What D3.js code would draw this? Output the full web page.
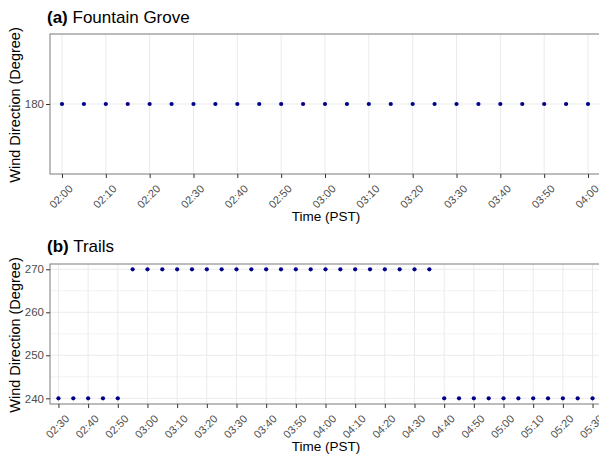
<!DOCTYPE html>
<html>
<head>
<meta charset="utf-8">
<script src="https://cdn.jsdelivr.net/npm/d3@7"></script>
<style>
  html, body { margin: 0; padding: 0; background: #fff; }
  svg { display: block; font-family: "Liberation Sans", Arial, sans-serif; }
</style>
</head>
<body>
<svg id="chart" width="599" height="458"></svg>
<script>
// (a) Fountain Grove: 5-minute wind direction observations
const timesA = ["02:00","02:05","02:10","02:15","02:20","02:25","02:30","02:35","02:40","02:45",
                "02:50","02:55","03:00","03:05","03:10","03:15","03:20","03:25","03:30","03:35",
                "03:40","03:45","03:50","03:55","04:00"];
const dirA = [180,180,180,180,180,180,180,180,180,180,
              180,180,180,180,180,180,180,180,180,180,
              180,180,180,180,180];
const ticksA = ["02:00","02:10","02:20","02:30","02:40","02:50","03:00",
                "03:10","03:20","03:30","03:40","03:50","04:00"];
const yTicksA = [180];

// (b) Trails: 5-minute wind direction observations
const timesB = ["02:30","02:35","02:40","02:45","02:50","02:55","03:00","03:05","03:10","03:15",
                "03:20","03:25","03:30","03:35","03:40","03:45","03:50","03:55","04:00","04:05",
                "04:10","04:15","04:20","04:25","04:30","04:35","04:40","04:45","04:50","04:55",
                "05:00","05:05","05:10","05:15","05:20","05:25","05:30"];
const dirB = [240,240,240,240,240,270,270,270,270,270,
              270,270,270,270,270,270,270,270,270,270,
              270,270,270,270,270,270,240,240,240,240,
              240,240,240,240,240,240,240];
const ticksB = ["02:30","02:40","02:50","03:00","03:10","03:20","03:30","03:40","03:50","04:00",
                "04:10","04:20","04:30","04:40","04:50","05:00","05:10","05:20","05:30"];
const yTicksB = [240,250,260,270];
const yMinorB = [245,255,265];

const parse = d3.timeParse("%H:%M");
const parseSec = d3.timeParse("%H:%M:%S");
const svg = d3.select("#chart");

function drawPanel(cfg) {
  const { tag, name, times, dirs, xTicks, yTicks, yMinor, xDomain, yDomain,
          top, bottom, left, right, titleY, xTitleY } = cfg;
  const x = d3.scaleTime().domain(xDomain.map(parseSec)).range([left, right]);
  const y = d3.scaleLinear().domain(yDomain).range([bottom, top]);
  const g = svg.append("g");

  // gridlines
  const grid = g.append("g").attr("stroke", "#ebebeb").attr("stroke-width", 1);
  yMinor.forEach(v => grid.append("line")
    .attr("x1", left).attr("x2", right).attr("y1", y(v)).attr("y2", y(v))
    .attr("stroke", "#f2f2f2"));
  yTicks.forEach(v => grid.append("line")
    .attr("x1", left).attr("x2", right).attr("y1", y(v)).attr("y2", y(v)));
  xTicks.forEach(t => grid.append("line")
    .attr("x1", x(parse(t))).attr("x2", x(parse(t))).attr("y1", top).attr("y2", bottom));

  // observations
  g.append("g").selectAll("circle")
    .data(times.map((t, i) => ({ t: parse(t), v: dirs[i] })))
    .join("circle")
    .attr("cx", d => x(d.t))
    .attr("cy", d => y(d.v))
    .attr("r", 2.1)
    .attr("fill", "#00008b");

  // panel border
  g.append("rect")
    .attr("x", left).attr("y", top)
    .attr("width", right - left).attr("height", bottom - top)
    .attr("fill", "none").attr("stroke", "#7a7a7a").attr("stroke-width", 1);

  // x axis
  const xAxis = d3.axisBottom(x)
    .tickValues(xTicks.map(parse))
    .tickFormat(d3.timeFormat("%H:%M"))
    .tickSize(4).tickPadding(2);
  const gx = g.append("g").attr("transform", `translate(0,${bottom})`).call(xAxis);
  gx.select(".domain").remove();
  gx.selectAll(".tick line").attr("stroke", "#333").attr("stroke-width", 1);
  gx.selectAll(".tick text")
    .attr("fill", "#4d4d4d").style("font-size", "11px")
    .attr("text-anchor", "end")
    .attr("dy", null).attr("y", null)
    .attr("transform", "translate(11,15.5) rotate(-45)");

  // y axis
  const yAxis = d3.axisLeft(y).tickValues(yTicks).tickFormat(d3.format("d"))
    .tickSize(4).tickPadding(2);
  const gy = g.append("g").attr("transform", `translate(${left},0)`).call(yAxis);
  gy.select(".domain").remove();
  gy.selectAll(".tick line").attr("stroke", "#333");
  gy.selectAll(".tick text").attr("fill", "#4d4d4d").style("font-size", "11.5px");

  // panel title
  const title = g.append("text").attr("x", 47).attr("y", titleY)
    .style("font-size", "17px").attr("fill", "#000");
  title.append("tspan").attr("font-weight", "bold").text(tag);
  title.append("tspan").text(" " + name);

  // axis titles
  g.append("text")
    .attr("x", (left + 600) / 2 + 1).attr("y", xTitleY)
    .attr("text-anchor", "middle").style("font-size", "13.5px").attr("fill", "#000")
    .text("Time (PST)");
  g.append("text")
    .attr("transform", `translate(20,${(top + bottom) / 2 + 1}) rotate(-90)`)
    .attr("text-anchor", "middle").style("font-size", "14.5px").attr("fill", "#000")
    .text("Wind Direction (Degree)");
}

drawPanel({
  tag: "(a)", name: "Fountain Grove",
  times: timesA, dirs: dirA, xTicks: ticksA, yTicks: yTicksA, yMinor: [],
  xDomain: ["01:57:16", "04:02:44"],
  yDomain: [179.5, 180.5],
  top: 34, bottom: 174, left: 50, right: 600,
  titleY: 23, xTitleY: 221
});

drawPanel({
  tag: "(b)", name: "Trails",
  times: timesB, dirs: dirB, xTicks: ticksB, yTicks: yTicksB, yMinor: yMinorB,
  xDomain: ["02:27:09", "05:32:51"],
  yDomain: [238.68, 271.23],
  top: 264, bottom: 404, left: 50, right: 601,
  titleY: 252, xTitleY: 451
});
</script>
</body>
</html>
